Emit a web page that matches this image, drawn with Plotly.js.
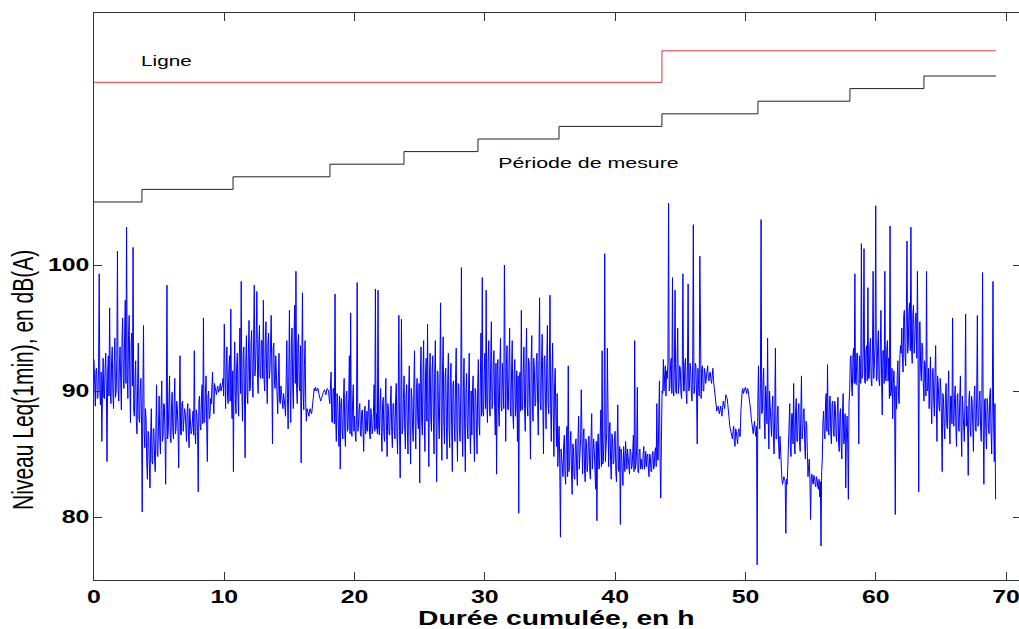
<!DOCTYPE html>
<html>
<head>
<meta charset="utf-8">
<script src="https://cdn.plot.ly/plotly-3.0.1.min.js"></script>
<style>
  html, body { margin: 0; padding: 0; overflow: hidden; background: #fff; }
  #chart { width: 1022px; height: 629px; }
</style>
</head>
<body>
<div id="chart"></div>
<script>
// ---- Data ----
// Leq(1 min) level, dB(A), one value every 0.05 h; one line per hour, split per 10 hours
const sampleStepH = 0.05;
const leqH00 = [
  92.5, 89.6, 88.8, 91.6, 91.8, 89.4, 89.5, 91.7, 99.3, 89.8, 88.9, 91.5, 86.0, 90.0, 92.6, 89.5, 89.4, 91.8, 93.0, 89.9,
  84.4, 91.5, 92.8, 89.6, 96.6, 90.0, 89.0, 92.4, 93.5, 89.8, 88.6, 92.2, 94.2, 89.5, 90.0, 92.5, 101.1, 90.2, 89.2, 92.0,
  93.5, 90.8, 88.5, 94.2, 95.8, 91.0, 90.2, 94.5, 97.2, 90.6, 103.0, 91.2, 89.4, 94.4, 96.0, 90.5, 87.5, 93.8, 94.6, 90.4,
  101.4, 88.4, 88.0, 91.0, 92.4, 87.6, 86.6, 90.6, 93.8, 87.8, 87.5, 90.2, 91.0, 87.2, 80.4, 89.8, 95.2, 86.8, 85.5, 88.6,
  87.8, 84.2, 83.0, 86.8, 86.5, 84.0, 82.3, 86.6, 88.6, 84.4, 84.2, 87.0, 87.0, 84.6, 83.6, 86.8, 90.5, 85.0, 84.8, 87.2,
  89.6, 86.2, 85.0, 88.8, 90.8, 86.0, 86.4, 89.0, 88.9, 86.4, 82.6, 88.6, 98.4, 86.2, 86.8, 89.2, 91.2, 86.4, 85.9, 88.8,
  89.9, 86.8, 86.2, 89.0, 91.0, 86.6, 87.0, 89.2, 88.6, 86.8, 83.9, 88.8, 92.8, 86.6, 86.5, 89.0, 89.2, 86.8, 87.4, 88.6,
  88.3, 86.6, 86.0, 88.4, 89.0, 86.4, 85.5, 88.6, 87.9, 86.6, 86.8, 88.2, 88.4, 86.5, 93.2, 86.8, 85.8, 88.5, 88.1, 86.8,
  82.0, 89.2, 89.6, 87.2, 86.9, 89.6, 90.5, 87.4, 95.8, 87.6, 87.5, 89.8, 91.2, 87.2, 84.4, 89.6, 90.0, 87.8, 88.0, 89.4,
  89.0, 90.4, 91.5, 89.2, 88.2, 90.6, 90.3, 89.8, 89.7, 90.2, 90.4, 89.9, 90.0, 90.3, 90.6, 90.0, 90.2, 90.5, 91.0, 89.6
];
const leqH10 = [
  95.3, 89.2, 88.6, 92.0, 93.5, 89.4, 89.0, 91.8, 92.8, 89.2, 96.5, 89.6, 87.8, 91.6, 83.6, 91.2, 93.9, 89.4, 88.2, 92.0,
  93.0, 89.6, 88.0, 92.6, 95.0, 89.8, 98.7, 90.0, 87.6, 92.8, 93.5, 89.6, 84.7, 92.4, 94.4, 89.8, 89.0, 93.0, 95.6, 90.0,
  90.2, 93.8, 94.8, 91.0, 89.5, 94.0, 98.4, 91.2, 92.0, 94.2, 97.9, 91.0, 89.8, 93.8, 95.2, 91.2, 91.0, 94.0, 94.0, 91.0,
  97.2, 91.0, 90.0, 94.0, 95.5, 91.2, 89.0, 93.8, 94.6, 91.0, 91.5, 93.6, 96.0, 91.2, 85.8, 93.4, 93.8, 90.8, 90.2, 92.8,
  91.5, 89.0, 88.2, 91.0, 93.0, 89.2, 89.0, 90.4, 89.6, 89.0, 88.6, 89.8, 89.4, 88.8, 88.0, 90.6, 94.0, 89.4, 87.0, 91.2,
  96.4, 90.2, 87.5, 93.8, 95.0, 90.4, 88.6, 94.0, 96.8, 90.6, 99.5, 90.2, 89.0, 93.8, 94.5, 90.4, 90.0, 93.6, 84.3, 92.0,
  97.8, 90.0, 88.5, 92.0, 94.0, 89.0, 87.6, 88.6, 88.3, 88.1, 88.0, 88.5, 88.6, 88.3, 88.2, 88.6, 89.0, 89.6, 90.2, 90.0,
  90.3, 90.1, 90.0, 90.2, 90.2, 89.8, 89.6, 89.4, 89.2, 89.4, 89.5, 89.7, 89.9, 90.0, 90.1, 89.9, 89.7, 90.0, 90.2, 90.1,
  90.0, 89.4, 89.0, 90.4, 91.5, 87.6, 87.5, 90.2, 90.2, 87.4, 97.7, 87.8, 86.0, 89.8, 89.5, 87.2, 85.6, 89.6, 83.8, 89.0,
  89.4, 86.8, 86.2, 89.4, 91.0, 86.6, 85.6, 89.6, 90.0, 86.8, 87.0, 89.4, 92.8, 86.6, 96.2, 86.8, 86.4, 89.2, 90.5, 86.8
];
const leqH20 = [
  88.0, 86.6, 86.0, 88.4, 98.6, 86.8, 87.2, 88.6, 89.0, 86.6, 86.4, 88.4, 88.5, 86.8, 85.2, 88.2, 88.8, 86.6, 87.0, 88.4,
  86.8, 88.4, 89.3, 86.6, 86.2, 88.6, 88.0, 86.6, 87.0, 88.4, 90.5, 86.8, 98.1, 87.0, 88.2, 86.6, 98.0, 87.2, 86.5, 88.8,
  90.2, 86.8, 85.2, 89.0, 89.5, 86.6, 86.0, 89.2, 91.0, 86.8, 84.8, 89.0, 88.6, 86.6, 86.5, 89.2, 90.4, 86.8, 85.5, 89.0,
  89.0, 86.8, 86.2, 89.4, 90.6, 86.6, 85.0, 89.6, 96.0, 86.8, 83.1, 89.2, 95.7, 86.6, 87.0, 89.4, 91.2, 87.0, 85.4, 89.6,
  90.5, 87.0, 85.0, 90.0, 92.0, 87.2, 84.2, 90.2, 89.6, 87.0, 86.0, 90.4, 93.2, 87.4, 85.4, 90.2, 91.0, 87.6, 87.0, 90.6,
  82.7, 91.2, 93.5, 87.6, 86.5, 91.4, 94.0, 87.8, 85.2, 91.6, 92.6, 87.6, 95.3, 88.0, 84.0, 91.4, 93.0, 87.8, 86.8, 91.6,
  92.8, 87.6, 85.0, 91.4, 94.0, 87.8, 82.8, 91.6, 91.5, 87.6, 86.2, 91.4, 97.0, 87.8, 84.5, 91.6, 94.3, 87.6, 85.8, 91.2,
  91.8, 87.2, 84.6, 90.8, 93.0, 87.0, 85.5, 91.0, 92.2, 87.2, 83.6, 90.6, 90.8, 87.4, 86.0, 91.0, 93.4, 87.2, 84.4, 90.6,
  90.5, 87.0, 86.0, 90.0, 99.8, 87.2, 84.8, 90.2, 92.6, 87.0, 83.6, 90.0, 91.4, 87.2, 86.2, 90.2, 93.0, 87.0, 85.0, 90.0,
  86.5, 90.0, 91.2, 87.0, 84.4, 90.2, 90.0, 87.2, 85.0, 90.4, 92.5, 87.4, 86.5, 90.6, 94.6, 88.0, 99.0, 88.4, 88.0, 91.4
];
const leqH30 = [
  93.0, 88.6, 98.0, 89.0, 87.5, 92.4, 94.0, 88.8, 88.0, 92.6, 95.5, 88.6, 89.0, 92.4, 93.2, 88.8, 86.5, 92.2, 83.4, 91.6,
  92.5, 88.6, 87.2, 92.0, 94.2, 88.8, 88.4, 92.2, 91.0, 88.6, 100.0, 88.8, 86.0, 92.0, 93.6, 88.6, 88.5, 92.2, 95.0, 88.8,
  88.0, 91.6, 94.0, 88.2, 87.0, 91.4, 92.5, 88.0, 89.0, 91.6, 86.0, 91.2, 80.3, 91.0, 91.5, 88.4, 96.4, 88.6, 88.5, 91.8,
  93.5, 88.6, 86.8, 92.4, 95.0, 88.8, 88.0, 92.6, 92.2, 88.6, 84.6, 92.4, 94.4, 88.8, 87.6, 92.6, 91.8, 88.8, 89.0, 92.4,
  93.0, 89.0, 86.5, 92.6, 97.4, 89.2, 88.5, 92.4, 94.5, 89.0, 85.0, 92.6, 92.8, 89.2, 87.0, 92.4, 95.2, 89.0, 88.2, 92.2,
  97.6, 88.6, 86.0, 91.0, 93.8, 88.2, 84.8, 90.6, 91.8, 87.8, 85.6, 89.8, 84.0, 86.0, 87.2, 84.0, 78.4, 85.4, 84.8, 83.6,
  83.2, 85.8, 86.5, 83.4, 82.6, 86.0, 87.2, 83.2, 92.0, 83.6, 84.0, 86.0, 86.8, 83.4, 81.8, 85.8, 85.5, 83.2, 83.0, 86.0,
  86.2, 83.6, 82.5, 86.4, 88.0, 83.8, 84.8, 86.2, 90.1, 83.6, 83.4, 86.4, 87.0, 83.8, 82.8, 86.2, 85.8, 83.6, 84.2, 86.4,
  86.4, 83.6, 83.0, 86.4, 88.2, 83.8, 84.6, 86.2, 85.2, 83.6, 82.2, 86.0, 79.7, 85.8, 86.6, 83.8, 84.0, 86.4, 88.5, 84.0,
  93.2, 84.2, 84.5, 86.8, 100.9, 84.4, 86.0, 86.6, 93.4, 84.2, 84.0, 86.8, 87.5, 84.4, 83.0, 86.6, 86.2, 84.2, 84.4, 86.4
];
const leqH40 = [
  86.8, 83.6, 82.8, 85.8, 88.9, 83.8, 83.6, 85.6, 79.4, 85.4, 85.0, 83.4, 82.5, 85.6, 84.2, 83.6, 86.0, 83.8, 83.8, 85.4,
  84.8, 83.8, 83.4, 85.4, 85.2, 83.8, 84.0, 85.2, 86.5, 83.6, 94.0, 83.8, 84.2, 85.4, 90.3, 83.6, 83.5, 85.2, 85.4, 83.8,
  84.6, 84.0, 83.8, 85.0, 85.6, 83.8, 84.2, 85.2, 84.0, 84.8, 85.0, 83.8, 83.2, 85.0, 84.8, 83.6, 83.6, 85.0, 85.2, 83.8,
  84.0, 85.2, 85.5, 84.0, 89.0, 84.6, 84.5, 88.0, 90.8, 84.2, 81.5, 86.0, 90.0, 89.8, 92.5, 90.0, 91.2, 92.0, 89.6, 91.6,
  91.0, 92.2, 104.9, 90.0, 90.2, 92.0, 92.6, 89.8, 99.0, 90.2, 89.6, 92.2, 98.0, 90.0, 89.8, 92.2, 95.0, 89.8, 90.4, 92.0,
  91.8, 89.8, 89.4, 92.0, 99.3, 90.0, 90.0, 92.2, 92.6, 89.8, 89.0, 92.0, 98.5, 90.0, 90.2, 92.2, 91.6, 89.8, 89.2, 92.0,
  103.2, 89.8, 90.0, 92.2, 92.0, 89.6, 85.8, 91.8, 90.5, 89.6, 100.7, 90.0, 89.4, 91.8, 92.0, 90.0, 90.0, 91.8, 91.5, 90.6,
  91.2, 91.6, 92.0, 91.0, 90.8, 91.4, 91.5, 90.9, 90.6, 91.2, 91.8, 90.8, 90.2, 89.6, 89.0, 88.6, 88.4, 88.7, 88.8, 88.5,
  88.2, 88.5, 88.8, 88.3, 88.0, 88.7, 89.2, 88.9, 88.6, 89.2, 89.7, 89.5, 89.4, 88.9, 88.5, 87.8, 87.2, 87.0, 86.8, 86.4,
  86.2, 86.8, 87.2, 86.0, 85.6, 87.0, 86.8, 86.2, 85.8, 86.8, 87.0, 86.4, 86.4, 88.4, 89.6, 90.0, 90.2, 89.8, 90.0, 90.2
];
const leqH50 = [
  90.3, 90.0, 89.8, 90.2, 90.1, 89.7, 89.4, 89.0, 88.5, 87.8, 87.4, 86.8, 86.6, 87.2, 87.6, 86.8, 86.4, 87.2, 76.2, 89.0,
  92.0, 88.0, 87.0, 90.6, 103.6, 88.2, 88.4, 90.8, 91.8, 87.6, 86.2, 90.4, 89.5, 87.4, 94.2, 87.8, 85.4, 90.0, 88.8, 87.2,
  86.4, 88.6, 89.6, 86.0, 85.0, 88.4, 93.4, 86.2, 86.2, 88.2, 88.8, 85.6, 84.6, 86.4, 85.2, 83.4, 83.0, 82.6, 82.8, 83.2,
  83.0, 82.8, 78.7, 83.0, 82.6, 84.0, 86.5, 88.0, 89.0, 85.6, 84.8, 88.2, 88.2, 85.8, 90.6, 86.0, 85.0, 88.4, 89.4, 86.0,
  86.0, 88.4, 89.0, 86.0, 85.2, 88.2, 91.2, 86.2, 86.8, 88.4, 88.6, 85.8, 84.6, 87.6, 87.4, 85.2, 83.2, 84.0, 84.6, 83.0,
  79.8, 83.0, 83.4, 82.8, 82.6, 83.3, 83.2, 82.6, 82.4, 83.2, 83.0, 82.4, 82.2, 83.0, 81.6, 82.8, 77.7, 83.6, 84.6, 87.6,
  88.4, 86.6, 86.2, 89.2, 89.8, 86.8, 92.1, 87.0, 86.5, 89.2, 89.6, 86.6, 85.8, 89.0, 89.2, 86.8, 86.4, 89.2, 88.8, 86.6,
  86.0, 88.4, 89.5, 85.8, 85.2, 88.2, 88.6, 85.6, 84.6, 88.4, 89.8, 85.8, 86.2, 88.2, 82.3, 86.6, 88.0, 85.8, 81.4, 89.0,
  90.0, 92.6, 92.8, 90.4, 89.6, 92.8, 93.4, 90.6, 99.3, 90.8, 90.5, 93.0, 93.0, 90.6, 85.8, 92.8, 92.4, 90.6, 101.7, 91.0,
  91.2, 93.4, 101.3, 90.8, 90.6, 93.2, 93.6, 90.8, 98.2, 91.0, 91.0, 93.6, 94.2, 90.8, 90.4, 93.4, 99.5, 91.0, 92.0, 93.6
];
const leqH60 = [
  104.7, 90.8, 91.0, 93.6, 94.8, 90.8, 90.4, 93.4, 96.4, 91.0, 88.1, 93.2, 93.2, 90.6, 99.5, 91.0, 90.8, 93.4, 94.0, 90.8,
  92.6, 89.4, 103.1, 89.6, 90.0, 91.8, 87.8, 90.6, 91.6, 89.2, 80.2, 90.4, 88.6, 91.2, 92.4, 89.4, 89.0, 92.6, 93.6, 93.0,
  95.0, 92.6, 91.5, 96.0, 96.4, 92.8, 92.0, 96.2, 101.9, 93.0, 93.6, 96.4, 97.0, 93.2, 103.0, 93.4, 92.2, 96.2, 96.8, 93.0,
  93.8, 96.0, 96.2, 92.6, 99.5, 93.0, 82.0, 95.4, 95.5, 91.6, 90.8, 93.8, 93.4, 90.6, 89.2, 92.4, 92.0, 89.6, 99.5, 90.0,
  90.2, 91.8, 88.6, 90.6, 92.7, 89.0, 87.4, 91.6, 91.8, 89.2, 88.0, 91.4, 93.6, 89.0, 86.0, 91.2, 90.5, 88.8, 88.4, 91.0,
  90.0, 87.4, 83.6, 89.8, 89.4, 87.2, 86.2, 89.6, 90.6, 87.4, 87.0, 89.8, 91.6, 87.2, 85.8, 89.6, 89.6, 87.4, 95.8, 87.6,
  87.2, 89.4, 90.4, 87.2, 85.6, 89.6, 89.8, 87.0, 86.8, 89.4, 91.2, 87.2, 84.8, 89.6, 88.6, 87.0, 86.0, 89.4, 96.1, 87.2,
  88.8, 87.2, 83.3, 89.4, 90.0, 87.0, 86.4, 89.6, 89.2, 87.2, 85.2, 89.4, 90.4, 87.0, 86.8, 89.6, 96.0, 87.2, 87.4, 89.4,
  90.0, 87.0, 86.0, 89.4, 99.4, 87.2, 82.6, 89.2, 89.4, 86.8, 85.4, 89.4, 88.8, 87.0, 86.6, 89.6, 90.2, 86.8, 85.0, 89.2,
  98.7, 87.4, 84.4, 89.0, 81.4
];

// "Ligne" step line (red): change points in h and level
const ligneX = [0, 43.59, 69.22];
const ligneY = [114.5, 117.0, 117.0];

// "Période de mesure" staircase (black): change points in h and level
const periodeX = [0, 3.68, 10.67, 18.11, 23.79, 29.47, 35.69, 43.59, 50.96, 58.02, 63.70, 69.22];
const periodeY = [105, 106, 107, 108, 109, 110, 111, 112, 113, 114, 115, 115];

// Axis ticks
const xTicks = [0, 10, 20, 30, 40, 50, 60, 70];
const yTicks = [80, 90, 100];

// ---- Build ----
const leq = [].concat(leqH00, leqH10, leqH20, leqH30, leqH40, leqH50, leqH60);
const timeH = leq.map((_, i) => +(i * sampleStepH).toFixed(3));

const FONT = 'Liberation Sans, Arial, Helvetica, sans-serif';
const AXC = '#333333';

const traces = [
  { x: timeH, y: leq, type: 'scatter', mode: 'lines',
    line: { color: 'rgb(0,0,255)', width: 1 }, hoverinfo: 'skip' },
  { x: ligneX, y: ligneY, type: 'scatter', mode: 'lines',
    line: { color: '#e03a3a', width: 1, shape: 'hv' }, hoverinfo: 'skip' },
  { x: periodeX, y: periodeY, type: 'scatter', mode: 'lines',
    line: { color: '#222222', width: 1, shape: 'hv' }, hoverinfo: 'skip' }
];

const axisCommon = {
  ticks: 'inside', ticklen: 8, tickwidth: 1, tickcolor: AXC,
  showline: true, linecolor: AXC, linewidth: 1, mirror: 'allticks',
  showgrid: false, zeroline: false,
  tickfont: { family: FONT, size: 18, weight: 'bold', color: '#000' }
};

const layout = {
  width: 1022, height: 629,
  margin: { l: 94, r: 1, t: 13, b: 49 },
  paper_bgcolor: '#ffffff', plot_bgcolor: '#ffffff',
  showlegend: false,
  font: { family: FONT, color: '#000' },
  xaxis: Object.assign({}, axisCommon, { range: [0, 71.15], tickvals: xTicks, ticktext: xTicks.map(String) }),
  yaxis: Object.assign({}, axisCommon, { range: [75, 120], tickvals: yTicks, ticktext: yTicks.map(String) }),
  annotations: [
    { text: 'Ligne', x: 5.53, y: 116.2, xref: 'x', yref: 'y', showarrow: false,
      xanchor: 'center', yanchor: 'middle', font: { family: FONT, size: 15, color: '#000' } },
    { text: 'Période de mesure', x: 37.95, y: 108.15, xref: 'x', yref: 'y', showarrow: false,
      xanchor: 'center', yanchor: 'middle', font: { family: FONT, size: 15.5, color: '#000' } },
    { text: 'Durée cumulée, en h', x: 0.499, y: -0.0655, xref: 'paper', yref: 'paper', showarrow: false,
      xanchor: 'center', yanchor: 'middle', font: { family: FONT, size: 20.5, weight: 'bold', color: '#000' } },
    { text: 'Niveau Leq(1min), en dB(A)', x: -0.0777, y: 0.3527, xref: 'paper', yref: 'paper', showarrow: false,
      textangle: -90, xanchor: 'center', yanchor: 'middle', font: { family: FONT, size: 21, color: '#000' } }
  ]
};

// The reference picture is stretched horizontally; stretch the texts the same way.
function stretchTexts(gd, sx) {
  gd.querySelectorAll('svg text').forEach(function (t) {
    if (!t.textContent) return;
    const r = t.getBoundingClientRect();
    if (!r.width) return;
    const anchor = t.getAttribute('text-anchor') || 'start';
    const rotated = r.height > r.width * 1.5;
    let xs = (r.left + r.right) / 2;
    if (!rotated && anchor === 'end') xs = r.right;
    if (!rotated && anchor === 'start') xs = r.left;
    const P = DOMMatrix.fromMatrix(t.parentNode.getScreenCTM());
    const S = new DOMMatrix().translate(xs, 0).scale(sx, 1).translate(-xs, 0);
    const M = P.inverse().multiply(S).multiply(P);
    const old = t.getAttribute('transform') || '';
    t.setAttribute('transform', 'matrix(' + [M.a, M.b, M.c, M.d, M.e, M.f].join(',') + ') ' + old);
  });
}

Plotly.newPlot('chart', traces, layout, { staticPlot: true, displayModeBar: false })
  .then(function (gd) { stretchTexts(gd, 1.38); });
</script>
</body>
</html>
